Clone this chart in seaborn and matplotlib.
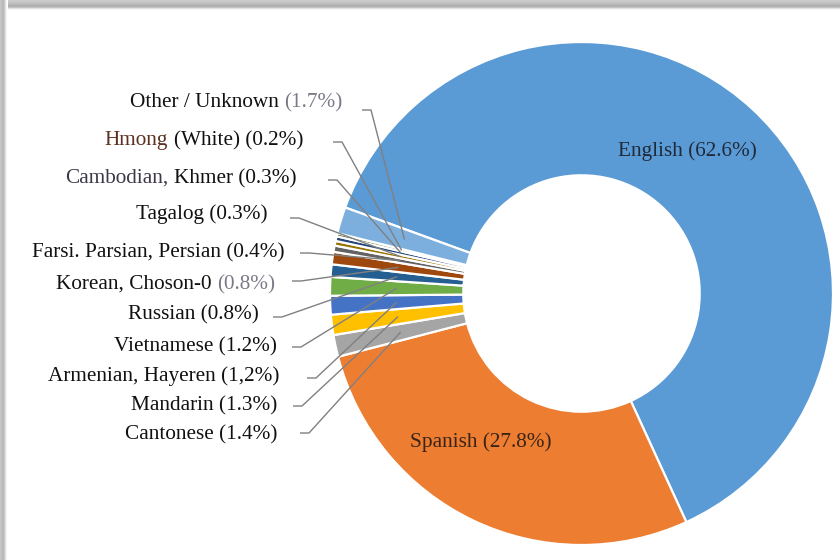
import matplotlib
matplotlib.use("Agg")
import matplotlib.pyplot as plt
import seaborn as sns
import numpy as np

# ---------------- data ----------------
languages = ["English", "Spanish", "Cantonese", "Mandarin", "Armenian, Hayeren",
             "Vietnamese", "Russian", "Korean, Choson-0", "Farsi. Parsian, Persian",
             "Tagalog", "Cambodian, Khmer", "Hmong (White)", "Other / Unknown"]
shares = [62.6, 27.8, 1.4, 1.3, 1.2, 1.2, 0.8, 0.8, 0.4, 0.3, 0.3, 0.2, 1.7]
share_texts = ["(62.6%)", "(27.8%)", "(1.4%)", "(1.3%)", "(1,2%)", "(1.2%)",
               "(0.8%)", "(0.8%)", "(0.4%)", "(0.3%)", "(0.3%)", "(0.2%)", "(1.7%)"]
slice_colors = ["#5B9BD5", "#ED7D31", "#A5A5A5", "#FFC000", "#4472C4", "#70AD47",
                "#255E91", "#9E480E", "#636363", "#997300", "#264478", "#43682B",
                "#7CAFDD"]

# ---------------- layout (pixel coords, y from top) ----------------
W, H = 840, 560
CX, CY = 581.5, 293.5
R_OUT = 251.5
RING = 0.53
R_MID = 185.0
TEXT_DY = 1.5
# outside labels: right edge x, centre y, leader start x, leader y
out_label_layout = {
    12: (342, 101, 362, 110),
    11: (303, 139, 333, 142),
    10: (296, 177, 328, 180),
    9:  (268, 213, 290, 218),
    8:  (285, 251, 300, 253),
    7:  (275, 283, 292, 281),
    6:  (259, 313, 273, 317),
    5:  (277, 345, 292, 347),
    4:  (279, 375, 307, 378),
    3:  (277, 404, 293, 406),
    2:  (277, 433, 300, 433),
}
inside_label_layout = {0: (687, 150, "#1f2a3a"), 1: (481, 441, "#3a2417")}
TXT = "#111111"
GRAY_TXT = "#7a7a88"
two_tone = {
    12: ("Other / Unknown", TXT, "(1.7%)", GRAY_TXT),
    11: ("Hmong", "#5b3222", "(White) (0.2%)", TXT),
    10: ("Cambodian,", "#3d3848", "Khmer (0.3%)", TXT),
    7:  ("Korean, Choson-0", TXT, "(0.8%)", GRAY_TXT),
}

sns.set_theme(style="white")
plt.rcParams["font.family"] = ["Liberation Serif", "DejaVu Serif"]
FS = 15.3

fig = plt.figure(figsize=(W / 100, H / 100), dpi=100)
ax = fig.add_axes([0, 0, 1, 1])

def py(y):
    return H - y

wedges, _ = ax.pie(shares, colors=slice_colors, startangle=160, counterclock=False,
                   center=(CX, py(CY)), radius=R_OUT,
                   wedgeprops=dict(width=R_OUT * RING, edgecolor="white", linewidth=1.6))

ax.set_xlim(0, W)
ax.set_ylim(0, H)
ax.set_aspect("auto")
ax.axis("off")

# frame shadow (top and left)
top_grad = np.array([[0.80], [0.78], [0.76], [0.74], [0.70], [0.68], [0.72], [0.86], [0.97], [1.0]])
ax.imshow(np.repeat(top_grad, 2, axis=1), cmap="gray", vmin=0, vmax=1, aspect="auto",
          extent=(0, W, py(11), py(0)), interpolation="bilinear", zorder=5)
left_grad = np.array([[0.78, 0.74, 0.72, 0.80, 0.93, 1.0]])
ax.imshow(np.repeat(left_grad, 2, axis=0), cmap="gray", vmin=0, vmax=1, aspect="auto",
          extent=(0, 8, 0, py(0)), interpolation="bilinear", zorder=5)
ax.set_xlim(0, W)
ax.set_ylim(0, H)

fig.canvas.draw()
renderer = fig.canvas.get_renderer()

def text_width(s):
    t = ax.text(0, 0, s, fontsize=FS)
    w = t.get_window_extent(renderer).width
    t.remove()
    return w

# outside labels + leader lines
for i, (xr, yc, lx, ly) in out_label_layout.items():
    full = f"{languages[i]} {share_texts[i]}"
    ty = py(yc + TEXT_DY)
    if i in two_tone:
        ltxt, lcol, rtxt, rcol = two_tone[i]
        wfull = text_width(full)
        ax.text(xr - wfull, ty, ltxt, fontsize=FS, color=lcol, ha="left", va="center")
        ax.text(xr, ty, rtxt, fontsize=FS, color=rcol, ha="right", va="center")
    else:
        ax.text(xr, ty, full, fontsize=FS, color=TXT, ha="right", va="center")
    w = wedges[i]
    mid = np.deg2rad((w.theta1 + w.theta2) / 2)
    ex = CX + R_MID * np.cos(mid)
    ey = py(CY) + R_MID * np.sin(mid)
    ax.plot([lx, lx + 9, ex], [py(ly), py(ly), ey], color="#808080", lw=1.0,
            solid_capstyle="butt", zorder=4)

for i, (x, y, col) in inside_label_layout.items():
    ax.text(x, py(y + TEXT_DY), f"{languages[i]} {share_texts[i]}", fontsize=FS, color=col,
            ha="center", va="center", zorder=6)

fig.savefig("out.png", dpi=100)
